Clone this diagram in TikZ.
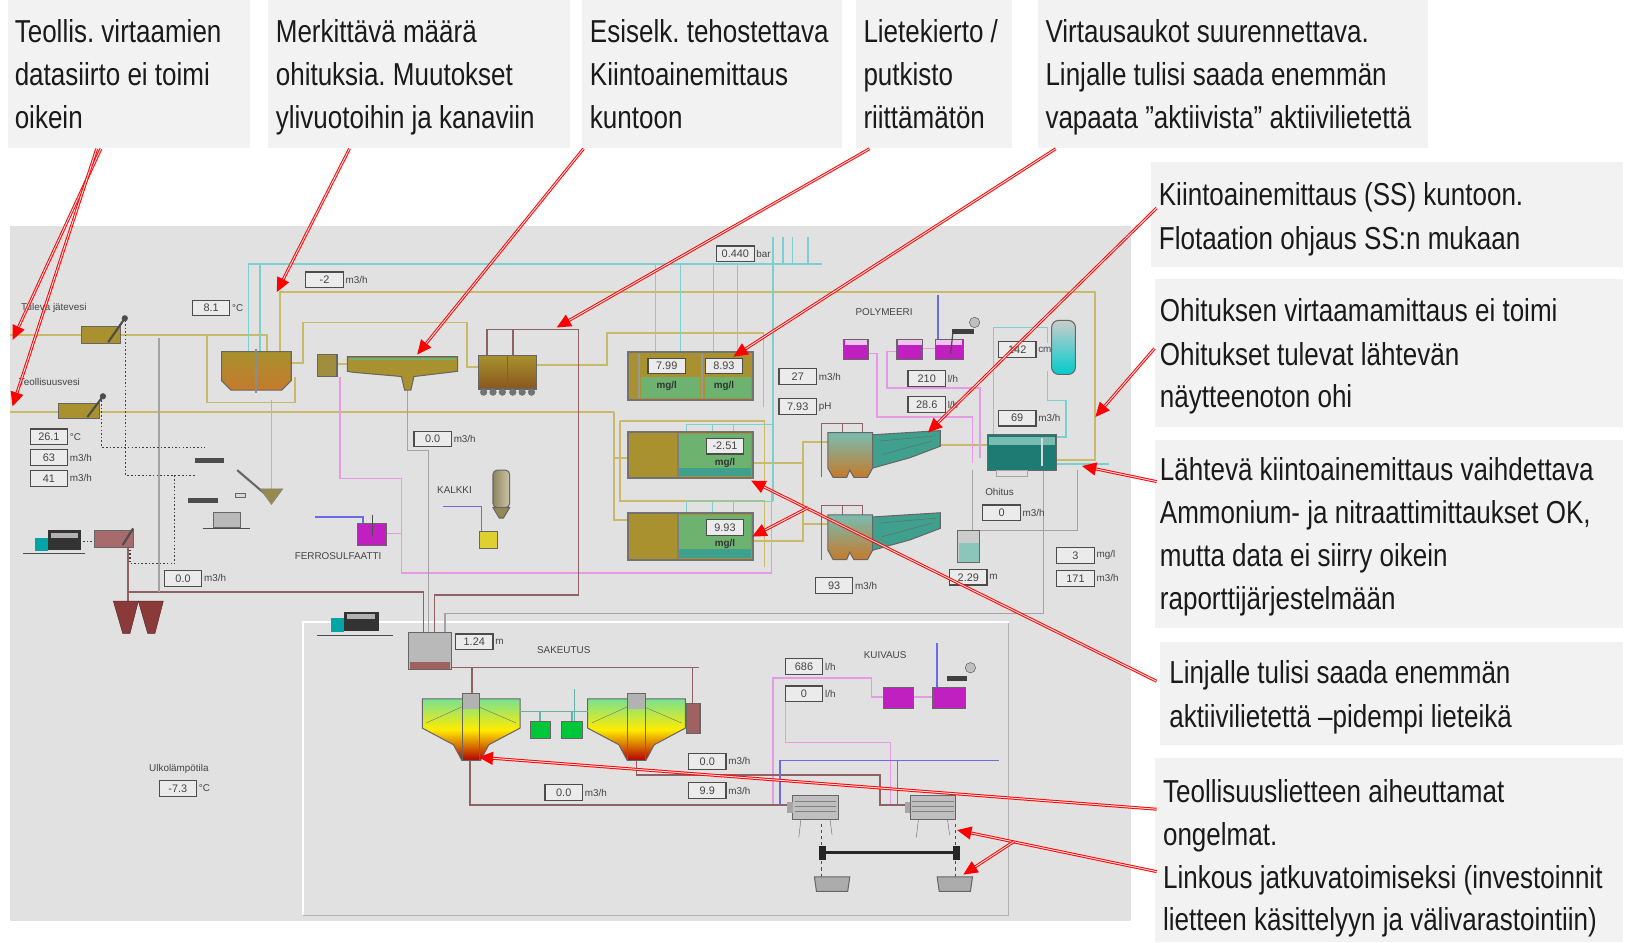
\documentclass[tikz,border=0pt]{standalone}
\usepackage{fontspec}
\setmainfont{Liberation Sans}[FakeStretch=0.82]
\newfontfamily\scf{Liberation Sans}
\usetikzlibrary{arrows.meta}
\definecolor{cbox}{HTML}{F2F2F2}
\definecolor{panel}{HTML}{E1E1E1}
\definecolor{pO}{HTML}{C9BA6A}
\definecolor{pC}{HTML}{7CCFCF}
\definecolor{pM}{HTML}{E69AE6}
\definecolor{pR}{HTML}{8E6262}
\definecolor{pG}{HTML}{A3A3A3}
\definecolor{pB}{HTML}{6B6BE6}
\definecolor{tO}{HTML}{A8912E}
\definecolor{tOr}{HTML}{C57A2C}
\definecolor{tG}{HTML}{6DB36F}
\definecolor{tT}{HTML}{3FA08E}
\definecolor{tDT}{HTML}{1E7B74}
\definecolor{mag}{HTML}{C020C0}
\definecolor{sl}{HTML}{8B3A3A}
\definecolor{txt}{HTML}{1A1A1A}
\definecolor{stxt}{HTML}{444444}
\frenchspacing
\begin{document}
\begin{tikzpicture}[x=1pt,y=-1pt,
 ctext/.style={anchor=base west, inner sep=0, font=\fontsize{30.5}{36}\selectfont, text=txt},
 po/.style={draw=pO, line width=1.8},
 pc/.style={draw=pC, line width=1.4},
 pm/.style={draw=pM, line width=1.4},
 pr/.style={draw=pR, line width=1.4},
 pg/.style={draw=pG, line width=1.4},
 pb/.style={draw=pB, line width=1.4},
 dots/.style={draw=black!75, line width=1, dash pattern=on 1.5pt off 2pt},
 val/.style={draw=black!70, fill=white!92!black, line width=1.1, minimum width=36, minimum height=15, inner sep=0, font=\scf\fontsize{10.5}{11}\selectfont, text=stxt},
 unit/.style={anchor=west, inner sep=1.5, font=\scf\fontsize{9.5}{10}\selectfont, text=stxt},
 lbl/.style={inner sep=0, font=\scf\fontsize{9.5}{10}\selectfont, text=stxt},
 tank/.style={draw=black!60, line width=1},
 redarr/.style={draw=red, line width=2.8, -{Triangle[length=14,width=12]}, postaction={draw=red!12, line width=0.9, -, shorten >=14}},
]
\useasboundingbox (0,0) rectangle (1571,906);
\fill[white] (0,0) rectangle (1571,906);
% ---------------- SCADA panel
\fill[panel] (10,217) rectangle (1087,885);
\draw[black!30, line width=1] (291,880) -- (970,880) -- (970,598);
\draw[white, line width=2] (970,598) -- (291,598) -- (291,880);
% olive pipes
\draw[po] (10,322) -- (78,322);
\draw[po] (116,322) -- (257,322) -- (257,340);
\draw[po] (199,322) -- (199,387) -- (284,387) -- (284,362);
\draw[po] (269,340) -- (269,281) -- (1053,281) -- (1053,442) -- (1016,442);
\draw[po] (10,396) -- (56,396);
\draw[po] (96,396) -- (590,396);
\draw[po] (280,349) -- (291,349) -- (291,310) -- (449,310) -- (449,353) -- (460,353);
\draw[po] (324,350) -- (334,350);
\draw[po] (516,351) -- (584,351) -- (584,320) -- (734,320) -- (734,391);
\draw[po] (261,385) -- (261,470);
\draw[po] (590,396) -- (590,500) -- (604,500);
\draw[po] (590,440) -- (604,440);
\draw[po] (596,405) -- (735,405) -- (735,470);
\draw[po] (596,405) -- (596,482) -- (735,482) -- (735,545);
\draw[po] (724,445) -- (772,445) -- (772,425) -- (796,425);
\draw[po] (724,520) -- (772,520) -- (772,504) -- (796,504);
\draw[po] (772,445) -- (772,504);
\draw[po] (904,428) -- (949,428);
% cyan pipes
\draw[pc] (239,345) -- (239,254) -- (790,254);
\draw[pc] (250,345) -- (250,254);
\foreach \x in {630,654,686,709} \draw[pc] (\x,254) -- (\x,345);
\draw[pc] (743,228) -- (743,482);
\draw[pc] (743,408) -- (660,408);
\foreach \x in {660,685,705} \draw[pc] (\x,408) -- (\x,418);
\draw[pc] (743,482) -- (660,482);
\foreach \x in {660,685,705} \draw[pc] (\x,482) -- (\x,496);
\foreach \x in {753,762,777} \draw[pc] (\x,228) -- (\x,254);
\draw[pc] (955,420) -- (955,315) -- (1007,315) -- (1007,330);
\draw[pc] (1007,357) -- (1007,385) -- (1025,385) -- (1025,420) -- (1016,420);
\draw[pc] (1016,446) -- (1066,446);
% magenta pipes
\draw[pm] (327,362) -- (327,460) -- (386,460) -- (386,551) -- (742,551) -- (742,470);
\draw[pm] (372,513) -- (386,513);
\draw[pm] (835,340) -- (843,340) -- (843,401) -- (935,401) -- (935,445);
\draw[pm] (862,338) -- (853,338) -- (853,373) -- (942,373) -- (942,440);
\draw[pm] (887,335) -- (899,335);
\draw[pm] (743,774) -- (743,652) -- (838,652) -- (838,670) -- (849,670);
\draw[pm] (755,675) -- (755,714) -- (856,714) -- (856,774);
\draw[pm] (878,670) -- (897,670);
% maroon pipes
\draw[pr] (468,341) -- (468,317) -- (556,317) -- (556,572) -- (418,572) -- (418,608);
\draw[pr] (493,317) -- (493,341);
\draw[pr] (122,569) -- (407,569) -- (407,608);
\draw[pr] (123,526) -- (123,578);
\draw[pr] (434,642) -- (672,642);
\draw[pr] (454,642) -- (454,668);
\draw[pr] (452,731) -- (452,774) -- (760,774);
\draw[pr] (612,731) -- (612,745) -- (846,745) -- (846,774) -- (873,774);
\draw[pr] (666,642) -- (666,676);
% gray pipes
\draw[pg] (153,325) -- (153,569);
\draw[pg] (392,375) -- (392,433) -- (412,433) -- (412,608);
\draw[pg] (428,608) -- (428,590) -- (1003,590) -- (1003,452);
\draw[pg] (935,452) -- (935,510) -- (1036,510) -- (1036,452);
% blue pipes
\draw[pb] (303,497) -- (349,497) -- (349,505);
\draw[pb] (426,487) -- (463,487) -- (463,512);
\draw[pb] (902,284) -- (902,327);
\draw[pb] (901,618) -- (901,662);
\draw[pb] (750,774) -- (750,731) -- (960,731);
\draw[pb] (863,731) -- (863,774);
% dotted lines
\draw[dots] (121,308) -- (121,457) -- (189,457);
\draw[dots] (98,385) -- (98,430) -- (197,430);
\draw[dots] (168,457) -- (168,542) -- (125,542) -- (125,513);
\draw[dots] (80,521) -- (91,521);
% ---------------- equipment
% screens
\path[tank, fill=tO] (78,314) rectangle (116,330);
\draw[black!70, line width=2] (104,329) -- (120,306);
\fill[black!70] (120,306) circle (3);
\path[tank, fill=tO] (56,388) rectangle (96,402);
\draw[black!70, line width=2] (84,401) -- (99,381);
\fill[black!70] (99,381) circle (3);
% equalisation tank
\path[tank, top color=tO, bottom color=tOr] (213,338) -- (280,338) -- (280,366) -- (271,375) -- (222,375) -- (213,366) -- cycle;
\draw[black!45, line width=2] (246,336) -- (246,378);
% small tank, clarifier
\path[tank, fill=tO!80!gray] (305,341) rectangle (324,362);
\path[tank, fill=tO] (334,343) -- (440,343) -- (440,357) -- (398,362) -- (395,375) -- (389,375) -- (386,362) -- (340,358) -- (334,357) -- cycle;
\draw[tG, line width=2] (336,345) -- (438,345);
% tank pair
\path[tank, top color=tO, bottom color=tOr!70!black] (460,342) rectangle (488,374);
\path[tank, top color=tO, bottom color=tOr!70!black] (488,342) rectangle (516,374);
\foreach \x in {465,474,483,493,502,511} \fill[black!55] (\x,377) circle (3.5);
% bio tanks
\path[tank, fill=tO, line width=2, draw=black!55] (604,338) rectangle (724,385);
\fill[tG] (616,362) rectangle (673,383);
\fill[tG] (678,362) rectangle (722,383);
\draw[black!40, line width=2] (614,340) -- (614,383);
\draw[black!40, line width=2] (675,340) -- (675,383);
\path[tank, fill=tO, line width=2, draw=black!55] (604,415) rectangle (724,460);
\fill[tG] (653,417) rectangle (722,458);
\fill[tT] (653,450) rectangle (722,458);
\draw[black!50, line width=1.5] (652,416) -- (652,459);
\path[tank, fill=tO, line width=2, draw=black!55] (604,493) rectangle (724,538);
\fill[tG] (653,495) rectangle (722,536);
\fill[tT] (653,528) rectangle (722,536);
\draw[black!50, line width=1.5] (652,494) -- (652,537);
% flotation units
\foreach \dy in {0,79}{
\begin{scope}[shift={(0,\dy)}]
\draw[pr] (790,459) -- (790,407) -- (829,407) -- (829,416);
\draw[pr] (810,407) -- (810,416);
\path[tank, top color=tT!70, bottom color=tOr] (796,416) -- (839,416) -- (839,450) -- (834,459) -- (821,459) -- (817,452) -- (814,459) -- (801,459) -- (796,450) -- cycle;
\path[tank, fill=tT] (839,418) -- (904,414) -- (904,429) -- (875,440) -- (839,450) -- cycle;
\draw[black!60] (846,424) -- (900,419);
\draw[black!60] (848,437) -- (896,424);
\end{scope}}
% teal tank, vessel
\path[tank, fill=tDT] (949,418) rectangle (1016,452);
\fill[tT!70] (951,420) rectangle (1014,428);
\draw[white!70!gray, line width=2.5] (1002,421) -- (1002,448);
\path[draw=gray!70, line width=1] (958,452) rectangle (988,458);
\path[tank, rounded corners=7, top color=gray!40, bottom color=cyan!60!teal] (1011,308) rectangle (1034,360);
% polymer tanks
\foreach \a/\b in {811/835, 862/887, 899/926}{
\path[tank, fill=mag] (\a,326) rectangle (\b,346);
\fill[pM!60] (\a+1,327) rectangle (\b-1,332);}
\fill[black!75] (915,316) rectangle (936,321);
\filldraw[fill=gray!50, draw=black!70] (937,310) circle (5);
\draw[black!70, line width=1.2] (916,321) -- (914,340);
% ferro, kalkki
\path[tank, fill=mag] (344,503) rectangle (372,524);
\draw[black!70] (358,495) -- (358,515);
\path[tank, rounded corners=4, left color=tO!40!gray, right color=tO!60!gray!50] (474,452) rectangle (490,488);
\path[tank, fill=tO!50!gray] (474,488) -- (490,488) -- (484,498) -- (480,498) -- cycle;
\path[tank, fill=yellow!60!tO] (461,511) rectangle (478,527);
% sludge cones, small tank
\path[fill=sl, draw=sl!60!black] (109,578) -- (133,578) -- (125,609) -- (118,609) -- cycle;
\path[fill=sl, draw=sl!60!black] (133,578) -- (157,578) -- (149,609) -- (142,609) -- cycle;
\path[tank, fill=sl!75] (91,510) rectangle (128,526);
\draw[black!70, line width=2] (118,524) -- (128,508);
% trucks
\draw[black!70, line width=1.5] (22,532) -- (82,532);
\fill[teal!70!cyan] (34,517) rectangle (46,530);
\fill[black!80] (46,510) rectangle (78,529);
\fill[gray!60] (49,512) rectangle (75,517);
\draw[black!70, line width=1.5] (305,611) -- (378,611);
\fill[teal!70!cyan] (318,594) rectangle (331,608);
\fill[black!80] (331,588) rectangle (364,607);
\fill[gray!60] (334,590) rectangle (361,595);
% grit / press icons
\draw[black!60, line width=2] (228,452) -- (262,481);
\path[fill=tO!60!gray, draw=black!50] (250,470) -- (272,470) -- (261,485) -- cycle;
\fill[black!70] (187,440) rectangle (215,445);
\fill[black!70] (181,479) rectangle (210,484);
\path[tank, fill=gray!55] (205,493) rectangle (231,507);
\draw[black!70, line width=1.5] (195,508) -- (240,508);
\path[draw=black!60, fill=gray!30] (226,474) rectangle (236,478);
% grey tank
\path[tank, fill=gray!55] (393,608) rectangle (434,644);
\fill[sl!80] (394,636) rectangle (433,643);
% thickeners
\foreach \dx in {0,159}{
\begin{scope}[shift={(\dx,0)}]
\path[tank, top color=tT!50!green!60, bottom color=red!70!black, middle color=yellow!85!orange] (406,672) -- (500,672) -- (500,700) -- (470,716) -- (462,731) -- (444,731) -- (436,716) -- (406,700) -- cycle;
\draw[black!55] (410,695) -- (452,676) -- (496,695);
\fill[gray!60] (444,666) rectangle (461,682);
\draw[black!60] (444,666) rectangle (461,731);
\end{scope}}
\draw[tT!80, line width=1.5] (500,684) -- (565,684);
\draw[tT!80, line width=1.5] (519,684) -- (519,694);
\draw[tT!80, line width=1.5] (550,684) -- (550,694);
\draw[tT!80, line width=1.2] (552,662) -- (552,702);
\path[tank, fill=green!55!teal] (510,694) rectangle (529,710);
\path[tank, fill=green!55!teal] (540,694) rectangle (560,710);
\path[tank, fill=sl!80] (660,676) rectangle (673,705);
% kuivaus
\path[tank, fill=mag] (849,661) rectangle (878,681);
\path[tank, fill=mag] (897,661) rectangle (928,681);
\fill[black!75] (910,650) rectangle (930,655);
\filldraw[fill=gray!50, draw=black!70] (933,642) circle (5);
% centrifuges, conveyor, containers
\foreach \cx in {762,875}{
\path[tank, fill=gray!50] (\cx,765) rectangle (\cx+44,788);
\foreach \yy in {770,775,780} \draw[black!50] (\cx+2,\yy) -- (\cx+42,\yy);
\fill[gray!70] (\cx-5,771) rectangle (\cx,782);
\draw[black!60] (\cx+8,788) -- (\cx+6,805);
\draw[black!60] (\cx+36,788) -- (\cx+38,803);}
\draw[black!85, line width=3] (790,820) -- (920,820);
\fill[black!85] (787,813) rectangle (794,827);
\fill[black!85] (916,813) rectangle (923,827);
\draw[black!70, dashed] (790,792) -- (790,812);
\draw[black!70, dashed] (918,792) -- (918,812);
\draw[black!70, dashed] (790,828) -- (790,843);
\draw[black!70, dashed] (918,828) -- (918,843);
\path[tank, fill=gray!65] (783,843) -- (817,843) -- (815,857) -- (785,857) -- cycle;
\path[tank, fill=gray!65] (901,843) -- (935,843) -- (933,857) -- (903,857) -- cycle;
\path[tank, fill=gray!40] (921,510) rectangle (942,541);
\fill[tT!60] (922,522) rectangle (941,540);
% ---------------- labels
\node[lbl, anchor=west] at (20,296) {Tuleva jätevesi};
\node[lbl, anchor=west] at (18,367) {Teollisuusvesi};
\node[lbl] at (437,471) {KALKKI};
\node[lbl] at (325,535) {FERROSULFAATTI};
\node[lbl] at (850,300) {POLYMEERI};
\node[lbl] at (961,473) {Ohitus};
\node[lbl] at (542,625) {SAKEUTUS};
\node[lbl] at (851,630) {KUIVAUS};
\node[lbl] at (172,739) {Ulkolämpötila};
% value boxes
\node[val] (v1) at (203,296) {8.1}; \node[unit] at (v1.east) {°C};
\node[val] (v2) at (312,269) {-2}; \node[unit] at (v2.east) {m3/h};
\node[val] (v3) at (707,244) {0.440}; \node[unit] at (v3.east) {bar};
\node[val] (v4) at (47,420) {26.1}; \node[unit] at (v4.east) {°C};
\node[val] (v5) at (47,440) {63}; \node[unit] at (v5.east) {m3/h};
\node[val] (v6) at (47,460) {41}; \node[unit] at (v6.east) {m3/h};
\node[val] (v7) at (176,556) {0.0}; \node[unit] at (v7.east) {m3/h};
\node[val] (v8) at (416,422) {0.0}; \node[unit] at (v8.east) {m3/h};
\node[val] (v9) at (641,352) {7.99};
\node[val] (v10) at (696,352) {8.93};
\node[val] (v11) at (767,362) {27}; \node[unit] at (v11.east) {m3/h};
\node[val] (v12) at (767,391) {7.93}; \node[unit] at (v12.east) {pH};
\node[val] (v13) at (891,364) {210}; \node[unit] at (v13.east) {l/h};
\node[val] (v14) at (891,389) {28.6}; \node[unit] at (v14.east) {l/h};
\node[val] (v15) at (978,336) {142}; \node[unit] at (v15.east) {cm};
\node[val] (v16) at (978,402) {69}; \node[unit] at (v16.east) {m3/h};
\node[val] (v17) at (697,429) {-2.51};
\node[val] (v18) at (697,507) {9.93};
\node[val] (v19) at (963,493) {0}; \node[unit] at (v19.east) {m3/h};
\node[val] (v20) at (931,555) {2.29}; \node[unit] at (v20.east) {m};
\node[val] (v21) at (802,563) {93}; \node[unit] at (v21.east) {m3/h};
\node[val] (v22) at (1034,534) {3}; \node[unit] at (v22.east) {mg/l};
\node[val] (v23) at (1034,556) {171}; \node[unit] at (v23.east) {m3/h};
\node[val] (v24) at (456,617) {1.24}; \node[unit] at (v24.east) {m};
\node[val] (v25) at (773,641) {686}; \node[unit] at (v25.east) {l/h};
\node[val] (v26) at (773,667) {0}; \node[unit] at (v26.east) {l/h};
\node[val] (v27) at (680,732) {0.0}; \node[unit] at (v27.east) {m3/h};
\node[val] (v28) at (680,760) {9.9}; \node[unit] at (v28.east) {m3/h};
\node[val] (v29) at (542,762) {0.0}; \node[unit] at (v29.east) {m3/h};
\node[val] (v30) at (171,758) {-7.3}; \node[unit] at (v30.east) {°C};
\foreach \p in {(641,371),(696,371),(697,445),(697,523)} \node[lbl, text=black!80, font=\scf\bfseries\fontsize{9.5}{10}\selectfont] at \p {mg/l};
% ---------------- callout boxes
\fill[cbox] (8,0) rectangle (240,142);
\fill[cbox] (258,0) rectangle (548,142);
\fill[cbox] (560,0) rectangle (810,142);
\fill[cbox] (823,0) rectangle (973,142);
\fill[cbox] (998,0) rectangle (1373,142);
\fill[cbox] (1107,156) rectangle (1560,257);
\fill[cbox] (1110,268) rectangle (1560,411);
\fill[cbox] (1110,423) rectangle (1560,604);
\fill[cbox] (1115,617) rectangle (1560,716);
\fill[cbox] (1110,729) rectangle (1560,906);
\node[ctext] (c1) at (14,41) {Teollis. virtaamien};
\node[ctext] at (14,82.5) {datasiirto ei toimi};
\node[ctext] at (14,124) {oikein};
\node[ctext] (c2) at (265,41) {Merkittävä määrä};
\node[ctext] at (265,82.5) {ohituksia. Muutokset};
\node[ctext] at (265,124) {ylivuotoihin ja kanaviin};
\node[ctext] (c3) at (567,41) {Esiselk. tehostettava};
\node[ctext] at (567,82.5) {Kiintoainemittaus};
\node[ctext] at (567,124) {kuntoon};
\node[ctext] (c4) at (830,41) {Lietekierto /};
\node[ctext] at (830,82.5) {putkisto};
\node[ctext] at (830,124) {riittämätön};
\node[ctext] (c5) at (1005,41) {Virtausaukot suurennettava.};
\node[ctext] at (1005,82.5) {Linjalle tulisi saada enemmän};
\node[ctext] at (1005,124) {vapaata ”aktiivista” aktiivilietettä};
\node[ctext] (c6) at (1114,198) {Kiintoainemittaus (SS) kuntoon.};
\node[ctext] at (1114,240) {Flotaation ohjaus SS:n mukaan};
\node[ctext] (c7) at (1115,309) {Ohituksen virtaamamittaus ei toimi};
\node[ctext] at (1115,351) {Ohitukset tulevat lähtevän};
\node[ctext] at (1115,392) {näytteenoton ohi};
\node[ctext] (c8) at (1115,462) {Lähtevä kiintoainemittaus vaihdettava};
\node[ctext] at (1115,503) {Ammonium- ja nitraattimittaukset OK,};
\node[ctext] at (1115,545) {mutta data ei siirry oikein};
\node[ctext] at (1115,586) {raporttijärjestelmään};
\node[ctext] (c9) at (1124,657) {Linjalle tulisi saada enemmän};
\node[ctext] at (1124,699) {aktiivilietettä –pidempi lieteikä};
\node[ctext] (c10) at (1118,772) {Teollisuuslietteen aiheuttamat};
\node[ctext] at (1118,813) {ongelmat.};
\node[ctext] at (1118,854) {Linkous jatkuvatoimiseksi (investoinnit};
\node[ctext] at (1118,895) {lietteen käsittelyyn ja välivarastointiin)};
% ---------------- red arrows
\coordinate (s1) at (97,143);  \coordinate (t1) at (12,327);
\coordinate (s2) at (93,143);  \coordinate (t2) at (12,391);
\coordinate (s3) at (336,143); \coordinate (t3) at (266,281);
\coordinate (s4) at (561,143); \coordinate (t4) at (401,341);
\coordinate (s5) at (836,143); \coordinate (t5) at (535,315);
\coordinate (s6) at (1015,143);\coordinate (t6) at (705,343);
\coordinate (s7) at (1112,200);\coordinate (t7) at (892,416);
\coordinate (s8) at (1110,335);\coordinate (t8) at (1053,401);
\coordinate (s9) at (1112,463);\coordinate (t9) at (1040,448);
\coordinate (s10) at (1112,655);\coordinate (t10) at (722,462);
\coordinate (b10) at (777,488); \coordinate (t11) at (723,516);
\coordinate (s12) at (1112,778);\coordinate (t12) at (460,728);
\coordinate (s13) at (1112,838);\coordinate (t13) at (920,798);
\coordinate (b13) at (975,809); \coordinate (t14) at (926,841);
\foreach \a/\b in {s1/t1,s2/t2,s3/t3,s4/t4,s5/t5,s6/t6,s7/t7,s8/t8,s9/t9,s10/t10,b10/t11,s12/t12,s13/t13,b13/t14}
  \draw[redarr] (\a) -- (\b);
\end{tikzpicture}
\end{document}
